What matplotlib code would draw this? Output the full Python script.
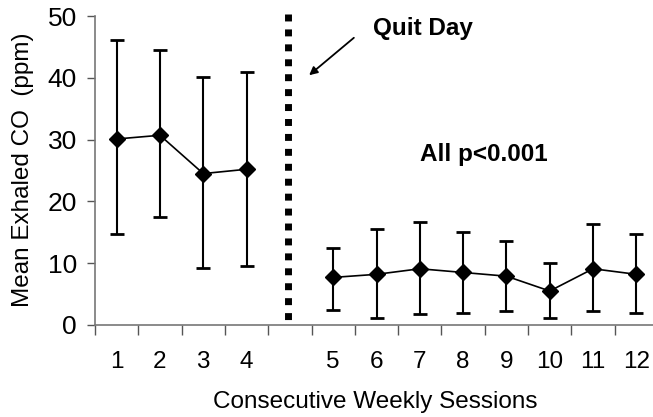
import matplotlib
matplotlib.use("Agg")
import matplotlib.pyplot as plt
import numpy as np

plt.rcParams['font.family'] = ['Liberation Sans', 'DejaVu Sans']

categories = ['1', '2', '3', '4', '', '5', '6', '7', '8', '9', '10', '11', '12']
pre_idx = [0, 1, 2, 3]
post_idx = [5, 6, 7, 8, 9, 10, 11, 12]
pre_mean = [30.1, 30.7, 24.5, 25.2]
pre_upper = [46.1, 44.5, 40.2, 40.9]
pre_lower = [14.7, 17.4, 9.3, 9.5]
post_mean = [7.7, 8.2, 9.1, 8.5, 7.9, 5.5, 9.1, 8.2]
post_upper = [12.5, 15.6, 16.6, 15.1, 13.6, 10.1, 16.3, 14.7]
post_lower = [2.5, 1.1, 1.7, 2.0, 2.3, 1.1, 2.3, 2.0]
quit_pos = 3.95

W, H = 653, 417
fig = plt.figure(figsize=(W/100, H/100), dpi=100)
left, right, top, bottom = 95, 658, 16, 325
ax = fig.add_axes([left/W, 1-bottom/H, (right-left)/W, (bottom-top)/H])
FS = 17.5

def draw(idx, mean, up, lo):
    mean = np.array(mean); up = np.array(up); lo = np.array(lo)
    ax.errorbar(idx, mean, yerr=[mean-lo, up-mean], fmt='none', ecolor='black',
                elinewidth=1.5, capsize=5, capthick=2)
    ax.plot(idx, mean, color='black', lw=1.2, marker='D', markersize=8,
            markerfacecolor='black', markeredgecolor='black')

draw(pre_idx, pre_mean, pre_upper, pre_lower)
draw(post_idx, post_mean, post_upper, post_lower)

ax.plot([quit_pos, quit_pos], [50.3, 0.3], color='black', lw=5.0,
        linestyle=(0, (1.0, 1.15)), dash_capstyle='butt', clip_on=False)

ax.set_xlim(-0.5, len(categories) - 0.5)
ax.set_ylim(0, 50)
ax.set_yticks([0, 10, 20, 30, 40, 50])
ax.set_xticks(range(len(categories)))
ax.set_xticklabels(categories)
ax.set_xticks(np.arange(-0.5, len(categories), 1), minor=True)
ax.tick_params(axis='x', which='major', length=0, pad=19, labelsize=FS)
ax.tick_params(axis='x', which='minor', length=7, color='#555555', width=1)
ax.tick_params(axis='y', length=6, color='#555555', width=1, labelsize=19, pad=7)

for s in ['top', 'right']:
    ax.spines[s].set_visible(False)
for s in ['left', 'bottom']:
    ax.spines[s].set_color('#777777')
    ax.spines[s].set_linewidth(1.2)

ax.set_xlabel('Consecutive Weekly Sessions', fontsize=FS)
ax.set_ylabel('Mean Exhaled CO  (ppm)', fontsize=FS)
ax.xaxis.set_label_coords((375-left)/(right-left), -(402-bottom)/(bottom-top))
ax.yaxis.set_label_coords(-(left-23)/(right-left), (bottom-170)/(bottom-top))
ax.xaxis.label.set_va('center')
ax.yaxis.label.set_va('center')

ax.annotate('', xy=(307/W, 1-77/H), xytext=(356/W, 1-36/H),
            xycoords='figure fraction', textcoords='figure fraction',
            arrowprops=dict(arrowstyle='-|>', color='black', lw=1.3, mutation_scale=12))
fig.text(373/W, 1-28/H, 'Quit Day', fontsize=FS, fontweight='bold', va='center', ha='left')
fig.text(420/W, 1-155/H, 'All p<0.001', fontsize=FS, fontweight='bold', va='center', ha='left')

fig.savefig('out.png', dpi=100)
